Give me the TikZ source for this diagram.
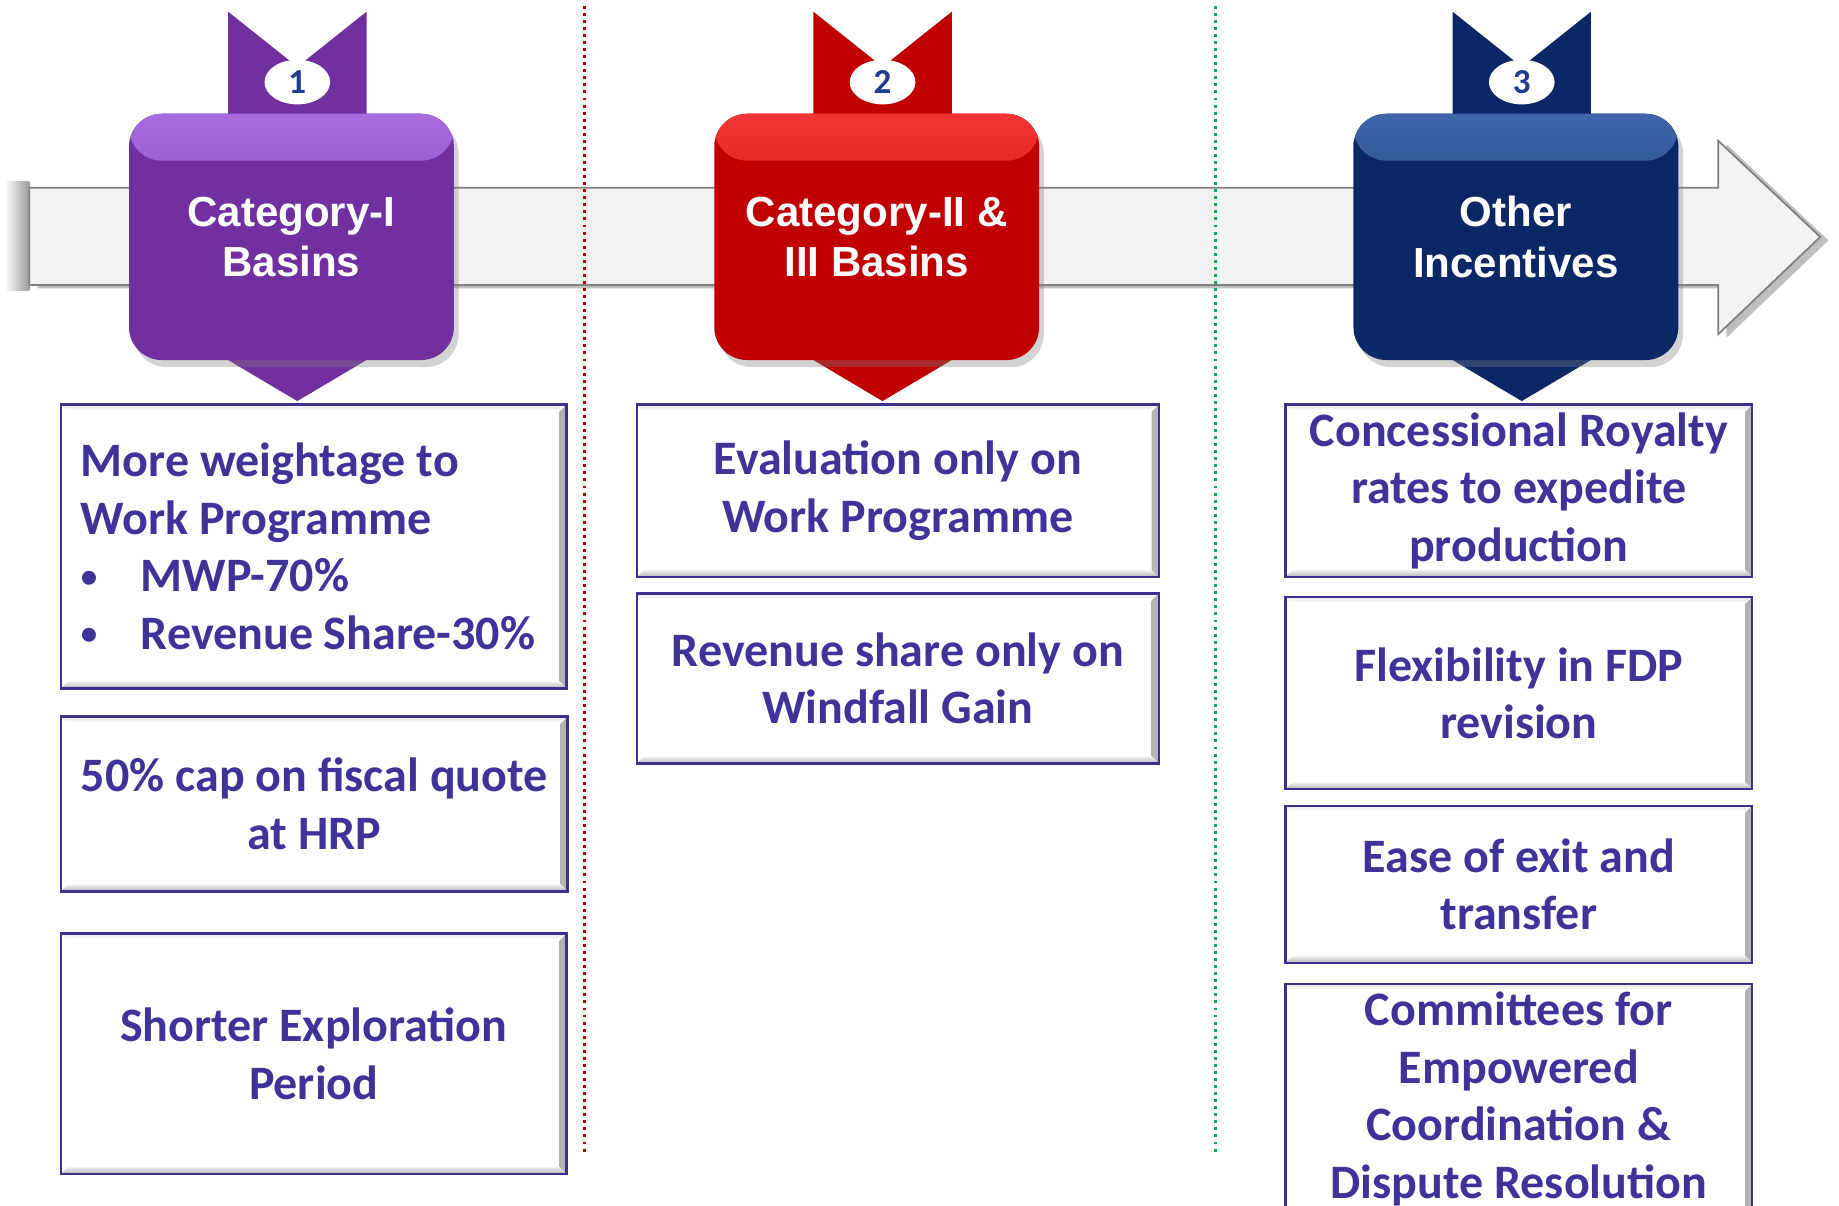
\documentclass[tikz,border=0pt]{standalone}
\usepackage{fontspec}
\setmainfont{Carlito}
\newfontfamily\headfont{Liberation Sans}
\usetikzlibrary{shapes.geometric,shadows}
\definecolor{catone}{HTML}{7030A0}
\definecolor{catonelt}{HTML}{A86BE0}
\definecolor{cattwo}{HTML}{C00000}
\definecolor{cattwolt}{HTML}{F23434}
\definecolor{catthree}{HTML}{0B2766}
\definecolor{catthreelt}{HTML}{4064A8}
\definecolor{boxline}{HTML}{3D2F8E}
\definecolor{boxtext}{HTML}{3F3399}
\definecolor{numblue}{HTML}{1F3D8F}
\definecolor{sepred}{HTML}{C00000}
\definecolor{sepgreen}{HTML}{00B050}
\newcommand{\itembullet}{\makebox[5.1mm][l]{\raisebox{0.2ex}{\fontsize{8}{8}\selectfont\textbullet}}}
\tikzset{
  headbox/.style={rounded corners=2.8mm, minimum width=27.7mm, minimum height=21mm,
    text=white, align=center, font=\headfont\bfseries\fontsize{10.2}{12.2}\selectfont,
    drop shadow={opacity=0.35, shadow xshift=0.4mm, shadow yshift=-0.6mm}},
  numoval/.style={ellipse, fill=white, minimum width=5.6mm, minimum height=3.8mm, inner sep=0pt,
    text=numblue, font=\bfseries\fontsize{8.5}{10}\selectfont},
  bevel/.style={path picture={
    \shade[left color=gray!10, right color=gray!60]
      (path picture bounding box.north east) -- (path picture bounding box.south east)
      -- ([xshift=-0.6mm,yshift=0.6mm]path picture bounding box.south east)
      -- ([xshift=-0.6mm,yshift=-0.6mm]path picture bounding box.north east) -- cycle;
    \shade[top color=gray!10, bottom color=gray!60]
      (path picture bounding box.south west) -- (path picture bounding box.south east)
      -- ([xshift=-0.6mm,yshift=0.6mm]path picture bounding box.south east)
      -- ([xshift=0.6mm,yshift=0.6mm]path picture bounding box.south west) -- cycle;
    \fill[gray!12]
      (path picture bounding box.north west) -- (path picture bounding box.north east)
      -- ([xshift=-0.6mm,yshift=-0.4mm]path picture bounding box.north east)
      -- ([xshift=0.4mm,yshift=-0.4mm]path picture bounding box.north west) -- cycle;}},
  txtbox/.style={draw=boxline, line width=0.2mm, fill=white, bevel, anchor=north west,
    text=boxtext, align=center, inner xsep=1.7mm, inner ysep=0.3mm,
    font=\bfseries\fontsize{11.65}{13.95}\selectfont}
}
\begin{document}
\begin{tikzpicture}[x=0.1mm,y=-0.1mm]
  \useasboundingbox (0,0) rectangle (1568,1028);
  \shade[left color=white, right color=gray!80] (4,155) rectangle (25,248);
  \draw[gray, line width=0.15mm, fill=gray!10,
    drop shadow={opacity=0.5, shadow xshift=0.7mm, shadow yshift=-0.3mm}]
    (25,160) -- (1465,160) -- (1465,120) -- (1552,202) -- (1465,285) -- (1465,243) -- (25,243) -- cycle;
  \draw[sepred, densely dotted, line width=0.25mm] (498,5) -- (498,985);
  \draw[sepgreen, densely dotted, line width=0.25mm] (1036,5) -- (1036,985);
  \foreach \n/\cx/\col/\lt/\txt in {1/248.5/catone/catonelt/{Category-I\\Basins},
      2/747.5/cattwo/cattwolt/{Category-II \&\\III Basins},
      3/1292.5/catthree/catthreelt/{Other\\Incentives}} {
    \fill[\col] (\cx-54,10) -- (\cx+5,57) -- (\cx+64,10) -- (\cx+64,307) -- (\cx+5,342) -- (\cx-54,307) -- cycle;
    \node[headbox, fill=\col, path picture={\shade[top color=\lt, bottom color=\col]
      (path picture bounding box.north west) rectangle ([yshift=-4mm]path picture bounding box.north east);}]
      (head\n) at (\cx,202) {\txt};
    \node[numoval] (num\n) at (\cx+5,70) {\n};
  }
  \node[txtbox, align=flush left, text width=39.7mm, minimum height=24.2mm] (cat1a) at (51,344)
    {More weightage to\\Work Programme\\\itembullet MWP-70\%\\\itembullet Revenue Share-30\%};
  \node[txtbox, minimum width=43.1mm, minimum height=14.9mm] (cat1b) at (51,610) {50\% cap on fiscal quote\\at HRP};
  \node[txtbox, minimum width=43.1mm, minimum height=20.5mm] (cat1c) at (51,795) {Shorter Exploration\\Period};
  \node[txtbox, minimum width=44.5mm, minimum height=14.7mm] (cat2a) at (542,344) {Evaluation only on\\Work Programme};
  \node[txtbox, minimum width=44.5mm, minimum height=14.5mm] (cat2b) at (542,505) {Revenue share only on\\Windfall Gain};
  \node[txtbox, minimum width=39.8mm, minimum height=14.7mm] (cat3a) at (1095,344) {Concessional Royalty\\rates to expedite\\production};
  \node[txtbox, minimum width=39.8mm, minimum height=16.4mm] (cat3b) at (1095,508) {Flexibility in FDP\\revision};
  \node[txtbox, minimum width=39.8mm, minimum height=13.4mm] (cat3c) at (1095,686) {Ease of exit and\\transfer};
  \node[txtbox, minimum width=39.8mm, minimum height=19.6mm] (cat3d) at (1095,838) {Committees for\\Empowered\\Coordination \&\\Dispute Resolution};
\end{tikzpicture}
\end{document}
